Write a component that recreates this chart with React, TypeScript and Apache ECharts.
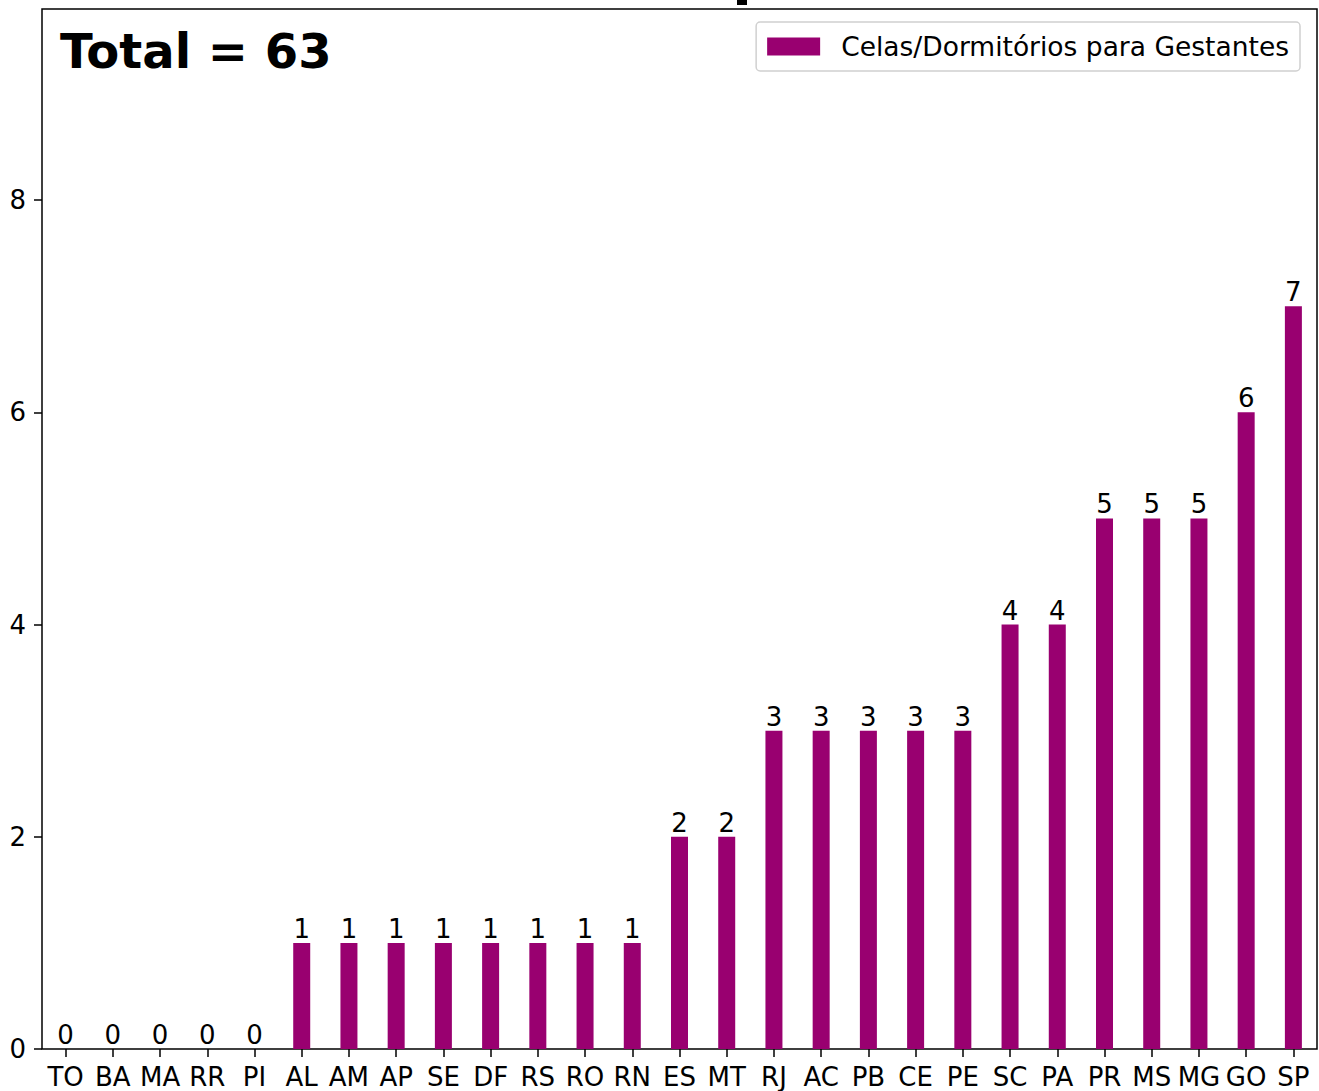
import React, { useEffect, useRef } from "react";
import * as echarts from "echarts";

const categories = ["TO","BA","MA","RR","PI","AL","AM","AP","SE","DF","RS","RO","RN","ES","MT","RJ","AC","PB","CE","PE","SC","PA","PR","MS","MG","GO","SP"];
const values = [0,0,0,0,0,1,1,1,1,1,1,1,1,2,2,3,3,3,3,3,4,4,5,5,5,6,7];
const seriesName = "Celas/Dormitórios para Gestantes";
const totalLabel = "Total = 63";
const yMax = 9.8;

const FONT = "DejaVu Sans";

export default function App() {
  const ref = useRef<HTMLDivElement>(null);
  useEffect(() => {
    const chart = echarts.init(ref.current!, null, { renderer: "svg" });
    chart.setOption({
      animation: false,
      backgroundColor: "#fff",
      textStyle: { fontFamily: FONT },
      grid: {
        left: 42, right: 2, top: 9, bottom: 42,
        show: true, borderColor: "#000", borderWidth: 1.5, backgroundColor: "transparent",
      },
      legend: {
        right: 19, top: 22,
        data: [seriesName],
        itemWidth: 53, itemHeight: 18,
        icon: "rect",
        padding: [11, 11, 11, 11],
        borderColor: "#d0d0d0", borderWidth: 1.5, borderRadius: 4,
        backgroundColor: "#fff",
        textStyle: { fontFamily: FONT, fontSize: 26.5, color: "#000", padding: [0, 0, 0, 16], lineHeight: 26 },
      },
      xAxis: {
        type: "category",
        data: categories,
        axisLine: { show: false },
        axisTick: { show: true, alignWithLabel: true, length: 8, lineStyle: { color: "#000", width: 1.5 } },
        axisLabel: { interval: 0, color: "#000", fontFamily: FONT, fontSize: 26, margin: 15 },
        splitLine: { show: false },
      },
      yAxis: {
        type: "value",
        min: 0, max: yMax, interval: 2,
        axisLine: { show: false },
        axisTick: { show: true, length: 8, lineStyle: { color: "#000", width: 1.5 } },
        axisLabel: {
          color: "#000", fontFamily: FONT, fontSize: 26, margin: 16, showMaxLabel: false,
          formatter: (v: number) => (Math.abs(v % 2) < 1e-9 ? String(v) : ""),
        },
        splitLine: { show: false },
      },
      series: [
        {
          name: seriesName,
          type: "bar",
          data: values,
          barWidth: 17,
          itemStyle: { color: "#990070" },
          label: { show: true, position: "top", distance: 1, color: "#000", fontFamily: FONT, fontSize: 26 },
        },
      ],
      graphic: [
        {
          type: "text",
          left: 60, top: 27,
          style: { text: totalLabel, fontFamily: FONT, fontWeight: "bold", fontSize: 48, fill: "#000" },
        },
        { type: "rect", shape: { x: 737, y: 0, width: 10, height: 5 }, style: { fill: "#000" } },
      ],
    });
    return () => chart.dispose();
  }, []);
  return <div ref={ref} style={{ position: "fixed", left: 0, top: 0, width: 1319, height: 1091 }} />;
}
